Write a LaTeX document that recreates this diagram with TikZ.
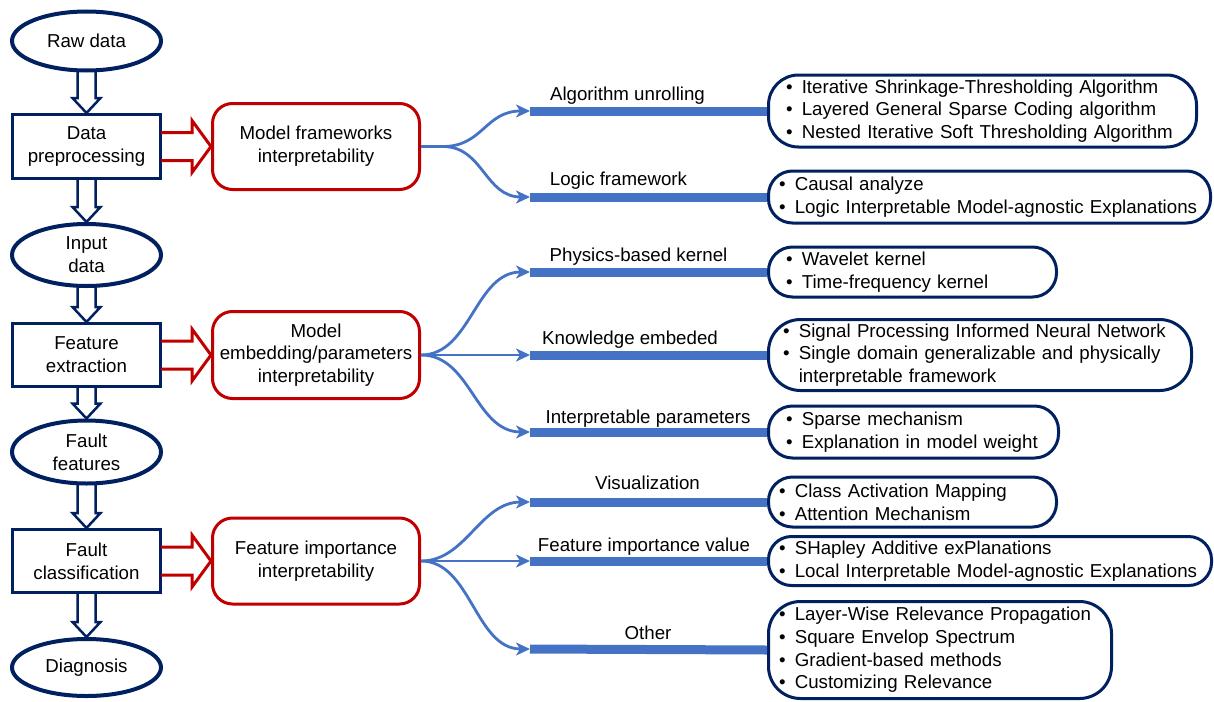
\documentclass[tikz,border=0pt]{standalone}
\usepackage{fontspec}
\setmainfont{Liberation Sans}
\usetikzlibrary{shapes.geometric,arrows.meta,calc}
\definecolor{navy}{RGB}{0,32,96}
\definecolor{dred}{RGB}{192,0,0}
\definecolor{lblue}{RGB}{68,114,196}
\newcommand\dfont{\fontsize{18.7}{22.7}\selectfont}
\newcommand\litem[1]{\mbox{\makebox[15.8pt][l]{•}#1}}
\newcommand\lcont[1]{\mbox{\hspace*{15.8pt}#1}}
\newcommand\navyarrow[2]{\draw[downarr] ($(#1.south)+(-9,-1)$) -- ($(#2.north)+(-9,-15)$) -- ($(#2.north)+(-14,-15)$) -- (#2.north) -- ($(#2.north)+(14,-15)$) -- ($(#2.north)+(9,-15)$) -- ($(#1.south)+(9,-1)$);}
\newcommand\redarrow[2]{\draw[redarr] ($(#1.east)+(-1,-14)$) -- ($(#2.west|-#1.east)+(-19,-14)$) -- ($(#2.west|-#1.east)+(-19,-26)$) -- (#2.west|-#1.east) -- ($(#2.west|-#1.east)+(-19,26)$) -- ($(#2.west|-#1.east)+(-19,14)$) -- ($(#1.east)+(-1,14)$);}
\begin{document}
\begin{tikzpicture}[x=1pt,y=-1pt,
  every node/.style={font=\dfont, inner sep=0pt},
  stageell/.style={ellipse, draw=navy, line width=4pt, minimum width=149pt, minimum height=59pt, align=center},
  stagebox/.style={rectangle, draw=navy, line width=3pt, minimum width=148pt, minimum height=64pt, align=center},
  interp/.style={rectangle, rounded corners=20pt, draw=dred, line width=3pt, minimum width=207pt, minimum height=86pt, align=center},
  leaf/.style={rectangle, draw=navy, line width=3pt, anchor=west, align=left},
  downarr/.style={draw=navy, line width=2.5pt, line join=miter},
  redarr/.style={draw=dred, line width=3pt, line join=miter},
  curve/.style={draw=lblue, line width=2.8pt, -{Stealth[length=14pt,width=13pt,inset=4pt]}},
  bar/.style={draw=lblue, line width=9pt},
  lab/.style={anchor=base}
]
\useasboundingbox (0,0) rectangle (1214,701);

% left column
\node[stageell] (raw) at (86.5,41) {Raw data};
\node[stagebox] (prep) at (86.5,146.5) {Data\\preprocessing};
\node[stageell, minimum height=62pt] (input) at (86.5,255) {Input\\data};
\node[stagebox, minimum height=63pt] (feat) at (86.5,355) {Feature\\extraction};
\node[stageell, minimum height=63pt] (ff) at (86.5,452) {Fault\\features};
\node[stagebox, minimum height=63pt] (cls) at (86.5,561) {Fault\\classification};
\node[stageell, minimum height=57pt] (diag) at (86.5,667.5) {Diagnosis};

\navyarrow{raw}{prep}
\navyarrow{prep}{input}
\navyarrow{input}{feat}
\navyarrow{feat}{ff}
\navyarrow{ff}{cls}
\navyarrow{cls}{diag}

% interpretability boxes
\node[interp] (m1) at (316,146.5) {Model frameworks\\interpretability};
\node[interp, minimum height=87pt] (m2) at (316,355) {Model\\embedding/parameters\\interpretability};
\node[interp] (m3) at (316,561) {Feature importance\\interpretability};

\redarrow{prep}{m1}
\redarrow{feat}{m2}
\redarrow{cls}{m3}

% leaf boxes
\node[leaf, minimum width=428pt, text width=393pt, inner xsep=17.5pt, minimum height=72pt, rounded corners=30pt] (r1) at (767,111)
  {\litem{Iterative Shrinkage-Thresholding Algorithm}\\\litem{Layered General Sparse Coding algorithm}\\\litem{Nested Iterative Soft Thresholding Algorithm}};
\node[leaf, minimum width=442pt, text width=421pt, inner xsep=10.5pt, minimum height=52pt, rounded corners=24pt] (r2) at (767,197)
  {\litem{Causal analyze}\\\litem{Logic Interpretable Model-agnostic Explanations}};
\node[leaf, minimum width=288pt, text width=253pt, inner xsep=17.5pt, minimum height=50pt, rounded corners=24pt] (r3) at (767,272)
  {\litem{Wavelet kernel}\\\litem{Time-frequency kernel}};
\node[leaf, minimum width=423pt, text width=394pt, inner xsep=14.5pt, minimum height=71pt, rounded corners=32pt] (r4) at (767,355)
  {\litem{Signal Processing Informed Neural Network}\\\litem{Single domain generalizable and physically}\\\lcont{interpretable framework}};
\node[leaf, minimum width=290pt, text width=255pt, inner xsep=17.5pt, minimum height=52pt, rounded corners=24pt] (r5) at (767,432)
  {\litem{Sparse mechanism}\\\litem{Explanation in model weight}};
\node[leaf, minimum width=288pt, text width=267pt, inner xsep=10.5pt, minimum height=50pt, rounded corners=24pt] (r6) at (767,502)
  {\litem{Class Activation Mapping}\\\litem{Attention Mechanism}};
\node[leaf, minimum width=443pt, text width=422pt, inner xsep=10.5pt, minimum height=49pt, rounded corners=23pt] (r7) at (767,561)
  {\litem{SHapley Additive exPlanations}\\\litem{Local Interpretable Model-agnostic Explanations}};
\node[leaf, minimum width=343pt, text width=322pt, inner xsep=10.5pt, minimum height=97pt, rounded corners=32pt] (r8) at (767,650)
  {\litem{Layer-Wise Relevance Propagation}\\\litem{Square Envelop Spectrum}\\\litem{Gradient-based methods}\\\litem{Customizing Relevance}};

% bar start points
\coordinate (s11) at (530,111);
\coordinate (s12) at (530,197);
\coordinate (s21) at (530,272);
\coordinate (s22) at (530,355);
\coordinate (s23) at (530,432);
\coordinate (s31) at (530,502);
\coordinate (s32) at (530,561);
\coordinate (s33) at (530,649);
\coordinate (br1) at ($(m1.east)+(22,0)$);

% bars
\draw[bar] (s11) -- (r1.west);
\draw[bar] (s12) -- (r2.west);
\draw[bar] (s21) -- (r3.west);
\draw[bar] (s22) -- (r4.west);
\draw[bar] (s23) -- (r5.west);
\draw[bar] (s31) -- (r6.west);
\draw[bar] (s32) -- (r7.west);
\draw[bar] (s33) -- (r8.west);

% curves
\draw[curve] (m1.east) -- (br1) .. controls +(40,0) and +(-45,0) .. (s11);
\draw[curve] (m1.east) -- (br1) .. controls +(40,0) and +(-45,0) .. (s12);
\draw[curve] (m2.east) .. controls +(50,0) and +(-55,0) .. (s21);
\draw[curve] (m2.east) -- (s22);
\draw[curve] (m2.east) .. controls +(50,0) and +(-55,0) .. (s23);
\draw[curve] (m3.east) .. controls +(45,0) and +(-50,0) .. (s31);
\draw[curve] (m3.east) -- (s32);
\draw[curve] (m3.east) .. controls +(50,0) and +(-55,0) .. (s33);

% bar labels
\node[lab] (l11) at (627.5,100.5) {Algorithm unrolling};
\node[lab] (l12) at (618.5,185.5) {Logic framework};
\node[lab] (l21) at (638.5,261.5) {Physics-based kernel};
\node[lab] (l22) at (630,344.5) {Knowledge embeded};
\node[lab] (l23) at (648,423.5) {Interpretable parameters};
\node[lab] (l31) at (647.5,489.5) {Visualization};
\node[lab] (l32) at (644,551.5) {Feature importance value};
\node[lab] (l33) at (648,639.5) {Other};
\end{tikzpicture}
\end{document}
